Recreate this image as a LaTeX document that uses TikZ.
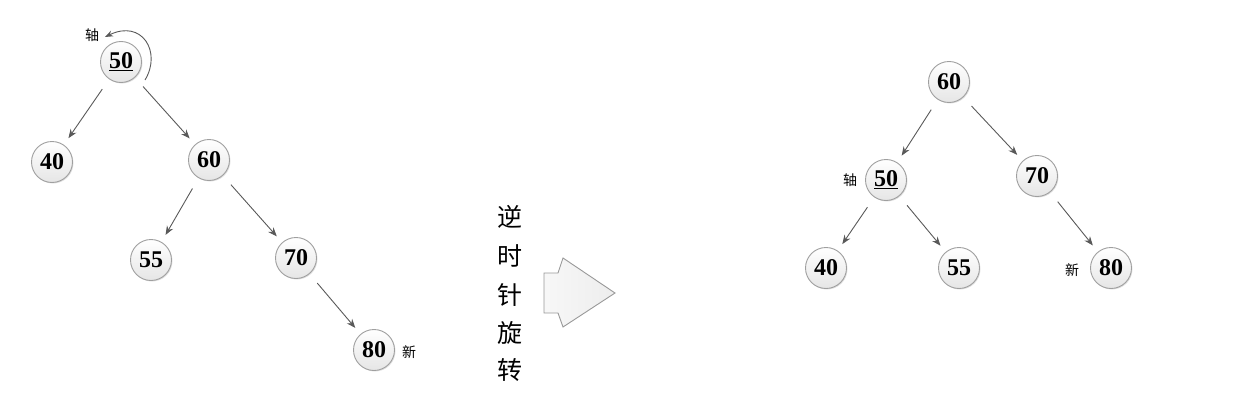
\documentclass[tikz,border=0pt]{standalone}
\usepackage{fontspec}
\setmainfont{Liberation Serif}
\newfontfamily\cjk{Noto Sans CJK SC}
\usetikzlibrary{arrows.meta,shadows}
\tikzset{
  ball/.style={circle, draw=gray!75, line width=0.9pt, minimum size=41pt, inner sep=0pt,
    top color=white, bottom color=gray!20, drop shadow={shadow xshift=1pt, shadow yshift=-1pt, opacity=0.25},
    font=\fontsize{24}{24}\selectfont\bfseries},
  edge/.style={draw=black!65, line width=0.9pt, -{Stealth[length=9pt,width=7pt]}, shorten <=12pt, shorten >=8pt},
  tag/.style={font=\cjk\fontsize{14}{14}\selectfont, inner sep=0pt},
  vtxt/.style={font=\cjk\fontsize{25}{25}\selectfont, inner sep=0pt}
}
\begin{document}
\begin{tikzpicture}[x=1pt,y=-1pt]
\useasboundingbox (0,0) rectangle (1238,412);
% left tree
\node[ball] (a50) at (121,62) {\underline{50}};
\node[ball] (a40) at (52,162) {40};
\node[ball] (a60) at (209,160) {60};
\node[ball] (a55) at (151,260) {55};
\node[ball] (a70) at (296,258) {70};
\node[ball] (a80) at (374,350) {80};
\node[tag] (ta) at (92,35) {轴};
\node[tag] (na) at (409,352) {新};
\draw[edge] (a50) -- (a40);
\draw[edge] (a50) -- (a60);
\draw[edge] (a60) -- (a55);
\draw[edge] (a60) -- (a70);
\draw[edge] (a70) -- (a80);
\coordinate (rs) at (145,80);
\coordinate (re) at (105,37);
\draw[draw=black!65, line width=0.9pt, -{Stealth[length=8pt,width=6pt]}] (rs) .. controls (162,52) and (142,19) .. (re);
% rotate label and block arrow
\node[vtxt] (v1) at (510,217) {逆};
\node[vtxt] (v2) at (510,256) {时};
\node[vtxt] (v3) at (510,295) {针};
\node[vtxt] (v4) at (510,333) {旋};
\node[vtxt] (v5) at (510,370) {转};
\draw[draw=gray!80, line width=0.9pt, left color=gray!6, right color=gray!14]
  (544,273) -- (558,273) -- (563,258) -- (615,293) -- (563,327) -- (558,313) -- (544,313) -- cycle;
% right tree
\node[ball] (b60) at (949,82) {60};
\node[ball] (b50) at (886,180) {\underline{50}};
\node[ball] (b70) at (1037,176) {70};
\node[ball] (b40) at (826,268) {40};
\node[ball] (b55) at (959,268) {55};
\node[ball] (b80) at (1111,268) {80};
\node[tag] (tb) at (850,180) {轴};
\node[tag] (nb) at (1072,270) {新};
\draw[edge] (b60) -- (b50);
\draw[edge] (b60) -- (b70);
\draw[edge] (b50) -- (b40);
\draw[edge] (b50) -- (b55);
\draw[edge] (b70) -- (b80);
\end{tikzpicture}
\end{document}
